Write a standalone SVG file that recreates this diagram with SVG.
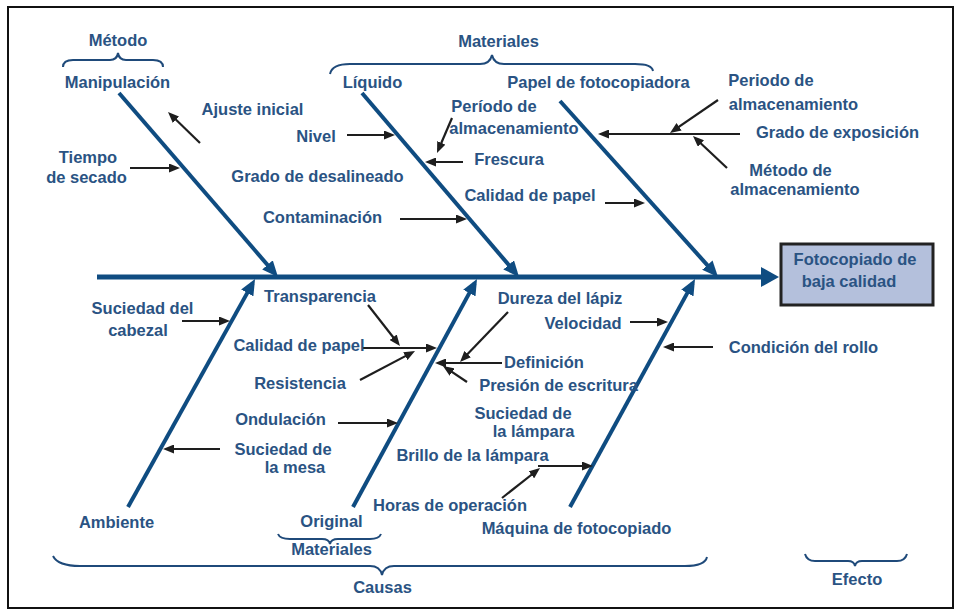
<svg xmlns="http://www.w3.org/2000/svg" width="960" height="614" viewBox="0 0 960 614">
<style>
text{font-family:"Liberation Sans",Arial,sans-serif;font-weight:bold;font-size:16.5px;fill:#2a5383;text-anchor:middle}
.bone{stroke:#0f4c81;stroke-width:4;fill:none}
.spine{stroke:#0f4c81;stroke-width:5;fill:none}
.sub{stroke:#1e1e1e;stroke-width:2.2;fill:none}
.brace{stroke:#1f4a7a;stroke-width:2;fill:none}
</style>
<defs>
<marker id="bh" markerUnits="userSpaceOnUse" markerWidth="16" markerHeight="14" refX="11" refY="7" orient="auto"><path d="M0,0 L16,7 L0,14 z" fill="#0f4c81"/></marker>
<marker id="sh" markerUnits="userSpaceOnUse" markerWidth="18" markerHeight="20" refX="12" refY="10" orient="auto"><path d="M0,0 L18,10 L0,20 z" fill="#0f4c81"/></marker>
<marker id="ah" markerUnits="userSpaceOnUse" markerWidth="11" markerHeight="9" refX="7" refY="4.5" orient="auto"><path d="M0,0 L11,4.5 L0,9 z" fill="#1e1e1e"/></marker>
</defs>
<rect x="8" y="7" width="945" height="601" fill="#ffffff" stroke="#111" stroke-width="2"/>

<g id="connectors">
<line class="spine" x1="97" y1="277" x2="773" y2="277" marker-end="url(#sh)"/>
<line class="bone" x1="119" y1="93" x2="274.7" y2="273.2" marker-end="url(#bh)"/>
<line class="bone" x1="362" y1="93" x2="515.8" y2="273.2" marker-end="url(#bh)"/>
<line class="bone" x1="560" y1="101" x2="714.7" y2="273.3" marker-end="url(#bh)"/>
<line class="bone" x1="128" y1="507" x2="252.6" y2="283.4" marker-end="url(#bh)"/>
<line class="bone" x1="353" y1="507" x2="474.6" y2="283.4" marker-end="url(#bh)"/>
<line class="bone" x1="570" y1="507" x2="692.6" y2="283.4" marker-end="url(#bh)"/>

<line class="sub" x1="200" y1="143" x2="170.9" y2="114.8" marker-end="url(#ah)"/>
<line class="sub" x1="130" y1="168" x2="176" y2="168" marker-end="url(#ah)"/>
<line class="sub" x1="347" y1="135" x2="391" y2="135" marker-end="url(#ah)"/>
<line class="sub" x1="400" y1="219" x2="463" y2="219" marker-end="url(#ah)"/>
<line class="sub" x1="452" y1="118" x2="438.6" y2="149.3" marker-end="url(#ah)"/>
<line class="sub" x1="463" y1="162" x2="429" y2="162" marker-end="url(#ah)"/>
<line class="sub" x1="605" y1="203" x2="641" y2="203" marker-end="url(#ah)"/>
<line class="sub" x1="740" y1="134" x2="602" y2="134" marker-end="url(#ah)"/>
<line class="sub" x1="718" y1="100" x2="673.3" y2="130.7" marker-end="url(#ah)"/>
<line class="sub" x1="727" y1="168" x2="695.9" y2="138.7" marker-end="url(#ah)"/>
<line class="sub" x1="182" y1="321" x2="226" y2="321" marker-end="url(#ah)"/>
<line class="sub" x1="368" y1="305" x2="397.5" y2="342.8" marker-end="url(#ah)"/>
<line class="sub" x1="363" y1="348" x2="433" y2="348" marker-end="url(#ah)"/>
<line class="sub" x1="360" y1="380" x2="411.5" y2="352.9" marker-end="url(#ah)"/>
<line class="sub" x1="338" y1="423" x2="394" y2="423" marker-end="url(#ah)"/>
<line class="sub" x1="220" y1="449" x2="167" y2="449" marker-end="url(#ah)"/>
<line class="sub" x1="508" y1="312" x2="462.8" y2="359.1" marker-end="url(#ah)"/>
<line class="sub" x1="502" y1="363" x2="439" y2="363" marker-end="url(#ah)"/>
<line class="sub" x1="467" y1="382" x2="446.3" y2="368.2" marker-end="url(#ah)"/>
<line class="sub" x1="630" y1="322" x2="664" y2="322" marker-end="url(#ah)"/>
<line class="sub" x1="713" y1="347" x2="667" y2="347" marker-end="url(#ah)"/>
<line class="sub" x1="502" y1="498" x2="536.9" y2="470.5" marker-end="url(#ah)"/>
<line class="sub" x1="538" y1="466" x2="589" y2="466" marker-end="url(#ah)"/>

<path class="brace" d="M63,67 Q63,60 73,60 L110,60 Q117,60 118,53 Q119,60 126,60 L153,60 Q163,60 163,67"/>
<path class="brace" d="M330,74 Q332,64 350,64 L480,64 Q490,64 492,55 Q494,64 504,64 L635,64 Q652,64 653,71"/>
<path class="brace" d="M278,534 Q280,539 290,539 L322,539 Q329,539 330,544 Q331,539 338,539 L370,539 Q379,539 381,534"/>
<path class="brace" d="M53,556 Q58,566 80,566 L370,566 Q380,566 382,575 Q384,566 394,566 L685,566 Q705,566 707,557"/>
<path class="brace" d="M805,554 Q807,561 815,561 L848,561 Q854,561 855,566 Q856,561 862,561 L897,561 Q905,561 907,554"/>
</g>

<g id="effect">
<rect x="781" y="244" width="152" height="61" fill="#b4c0dc" stroke="#222" stroke-width="3"/>
<text x="855" y="265">Fotocopiado de</text>
<text x="849" y="287">baja calidad</text>
</g>

<g id="metodo"><text x="118" y="46">Método</text></g>
<g id="manipulacion"><text x="117.5" y="88">Manipulación</text></g>
<g id="ajuste-inicial"><text x="252.5" y="115">Ajuste inicial</text></g>
<g id="tiempo-secado"><text x="88" y="163">Tiempo</text><text x="86.5" y="183">de secado</text></g>
<g id="nivel"><text x="316" y="142">Nivel</text></g>
<g id="grado-desalineado"><text x="317.5" y="182">Grado de desalineado</text></g>
<g id="contaminacion"><text x="322.5" y="223">Contaminación</text></g>

<g id="materiales-top"><text x="498.5" y="47">Materiales</text></g>
<g id="liquido"><text x="372.5" y="88">Líquido</text></g>
<g id="papel-fotocopiadora"><text x="598.5" y="88">Papel de fotocopiadora</text></g>
<g id="periodo-mid"><text x="494" y="112">Período de</text><text x="514" y="134">almacenamiento</text></g>
<g id="frescura"><text x="509" y="165">Frescura</text></g>
<g id="calidad-papel-top"><text x="530" y="201">Calidad de papel</text></g>

<g id="periodo-right"><text x="771" y="86">Periodo de</text><text x="793.5" y="110">almacenamiento</text></g>
<g id="grado-exposicion"><text x="837.5" y="138">Grado de exposición</text></g>
<g id="metodo-almacenamiento"><text x="790.5" y="176">Método de</text><text x="795" y="195">almacenamiento</text></g>

<g id="suciedad-cabezal"><text x="142.5" y="314">Suciedad del</text><text x="138" y="336">cabezal</text></g>
<g id="transparencia"><text x="320" y="302">Transparencia</text></g>
<g id="calidad-papel-bottom"><text x="299" y="351">Calidad de papel</text></g>
<g id="resistencia"><text x="300" y="389">Resistencia</text></g>
<g id="ondulacion"><text x="280.5" y="425">Ondulación</text></g>
<g id="suciedad-mesa"><text x="283" y="455">Suciedad de</text><text x="295" y="473">la mesa</text></g>
<g id="ambiente"><text x="116.5" y="528">Ambiente</text></g>
<g id="original"><text x="331.5" y="527">Original</text></g>
<g id="materiales-bottom"><text x="331.5" y="555">Materiales</text></g>
<g id="causas"><text x="382.5" y="593">Causas</text></g>

<g id="dureza-lapiz"><text x="560" y="304">Dureza del lápiz</text></g>
<g id="velocidad"><text x="583" y="329">Velocidad</text></g>
<g id="definicion"><text x="544" y="368">Definición</text></g>
<g id="presion-escritura"><text x="558.5" y="391">Presión de escritura</text></g>
<g id="suciedad-lampara"><text x="523" y="419">Suciedad de</text><text x="533.5" y="437">la lámpara</text></g>
<g id="brillo-lampara"><text x="472.5" y="461">Brillo de la lámpara</text></g>
<g id="horas-operacion"><text x="450" y="511">Horas de operación</text></g>
<g id="maquina-fotocopiado"><text x="576.5" y="534">Máquina de fotocopiado</text></g>
<g id="condicion-rollo"><text x="803.5" y="353">Condición del rollo</text></g>
<g id="efecto"><text x="857" y="585">Efecto</text></g>
</svg>
